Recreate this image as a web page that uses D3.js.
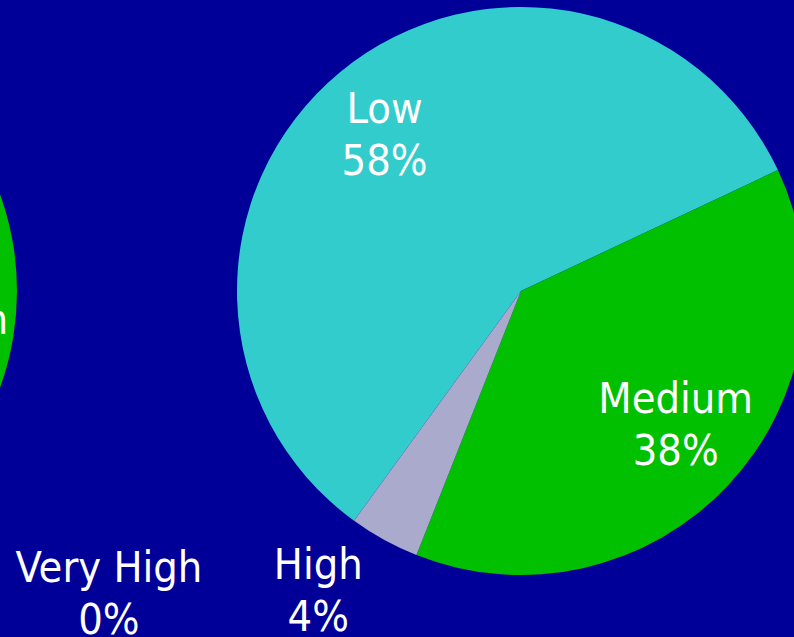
<!DOCTYPE html>
<html>
<head>
<meta charset="utf-8">
<script src="https://cdn.jsdelivr.net/npm/d3@7"></script>
<style>
  html, body { margin: 0; padding: 0; background: #000099; overflow: hidden; }
  svg { display: block; }
  text { font-family: "DejaVu Sans Condensed", "DejaVu Sans", sans-serif; font-stretch: condensed; fill: #ffffff; }
</style>
</head>
<body>
<script>
// Risk level shares
const categories = ["Low", "Medium", "High", "Very High"];
const values = [58, 38, 4, 0];
const colors = ["#33CCCC", "#00C000", "#AAAACC", "#9999FF"];

// Neighbouring pie (only its right edge is in view)
const leftValues = [50, 40, 10, 0];

const W = 794, H = 637;
const R = 284;
const startDeg = 216;
const rad = Math.PI / 180;

const svg = d3.select("body").append("svg")
  .attr("width", W).attr("height", H);

svg.append("rect").attr("width", W).attr("height", H).attr("fill", "#000099");

const pie = d3.pie().sort(null)
  .startAngle(startDeg * rad)
  .endAngle(startDeg * rad + 2 * Math.PI);

const arc = d3.arc().innerRadius(0).outerRadius(R);

const color = d3.scaleOrdinal().domain(categories).range(colors);

function drawPie(cx, cy, vals) {
  const g = svg.append("g").attr("transform", `translate(${cx},${cy})`);
  const arcs = pie(vals).map((a, i) => Object.assign(a, { cat: categories[i] }));
  g.selectAll("path").data(arcs.filter(d => d.value > 0)).join("path")
    .attr("d", arc)
    .attr("fill", d => color(d.cat));
  return { g, arcs };
}

// label placement: [angle shift from slice middle (deg), radius factor]
const inside = [-1.9, 0.725];
const outside = {
  "High": [5.1, 1.28],
  "Very High": [17.5, 1.805]
};

function drawLabels(g, arcs) {
  arcs.forEach(d => {
    const [shift, k] = outside[d.cat] || inside;
    const a = (d.startAngle + d.endAngle) / 2 + shift * rad;
    const x = Math.sin(a) * R * k;
    const y = -Math.cos(a) * R * k;
    const t = g.append("text")
      .attr("text-anchor", "middle")
      .attr("font-size", 43);
    t.append("tspan").attr("x", x).attr("y", y - 14).text(d.cat);
    t.append("tspan").attr("x", x).attr("y", y + 38).text(d3.format(".0f")(d.value) + "%");
  });
}

// neighbouring pie, mostly off the left edge
const left = drawPie(-267, 291, leftValues);
drawLabels(left.g, left.arcs.filter(d => d.cat === "Medium"));

// main pie
const main = drawPie(521, 291, values);
drawLabels(main.g, main.arcs);
</script>
</body>
</html>
